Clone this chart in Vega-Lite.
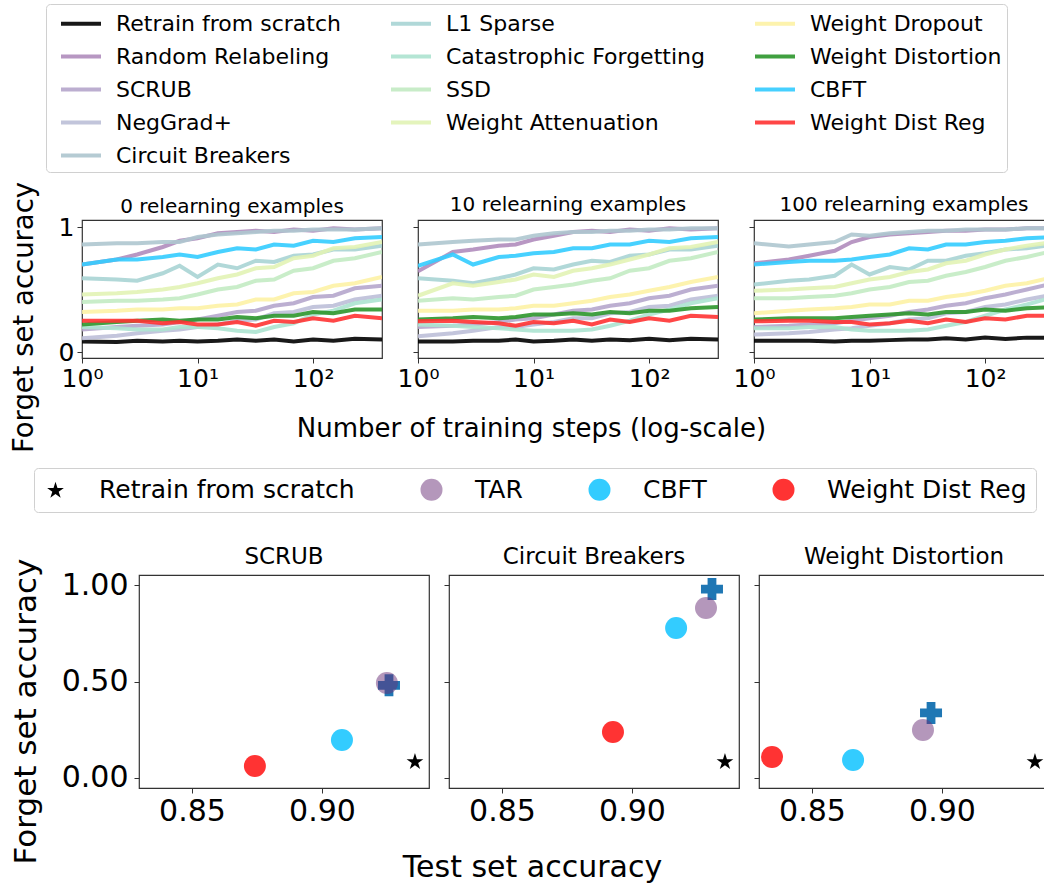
{
"$schema":"https://vega.github.io/schema/vega-lite/v6.json",
"padding":{"left":9,"top":3,"right":0,"bottom":0},
"config":{"font":"DejaVu Sans","view":{"stroke":"#333","strokeWidth":1.2},
"axis":{"grid":false,"domain":false,"tickColor":"#333","tickSize":5,"labelColor":"#000","titleColor":"#000","titleFontWeight":"normal","labelPadding":3},
"title":{"fontWeight":"normal","color":"#000","frame":"group"}},
"datasets":{
"methods":[{"m":"a","name":"Retrain from scratch"},{"m":"b","name":"Random Relabeling"},{"m":"c","name":"SCRUB"},{"m":"d","name":"NegGrad+"},{"m":"e","name":"Circuit Breakers"},{"m":"f","name":"L1 Sparse"},{"m":"g","name":"Catastrophic Forgetting"},{"m":"h","name":"SSD"},{"m":"i","name":"Weight Attenuation"},{"m":"j","name":"Weight Dropout"},{"m":"k","name":"Weight Distortion"},{"m":"l","name":"CBFT"},{"m":"m","name":"Weight Dist Reg"}],
"pts":[
{"panel":"SCRUB","k":"Original","x":0.9258,"y":0.48},{"panel":"SCRUB","k":"TAR","x":0.925,"y":0.492},{"panel":"SCRUB","k":"CBFT","x":0.9077,"y":0.197},{"panel":"SCRUB","k":"Weight Dist Reg","x":0.8742,"y":0.062},{"panel":"SCRUB","k":"Retrain from scratch","x":0.9358,"y":0.088},
{"panel":"CB","k":"Original","x":0.9308,"y":0.979},{"panel":"CB","k":"TAR","x":0.9285,"y":0.881},{"panel":"CB","k":"CBFT","x":0.917,"y":0.777},{"panel":"CB","k":"Weight Dist Reg","x":0.8927,"y":0.238},{"panel":"CB","k":"Retrain from scratch","x":0.9358,"y":0.088},
{"panel":"WD","k":"Original","x":0.8958,"y":0.337},{"panel":"WD","k":"TAR","x":0.8927,"y":0.249},{"panel":"WD","k":"CBFT","x":0.8658,"y":0.093},{"panel":"WD","k":"Weight Dist Reg","x":0.8346,"y":0.109},{"panel":"WD","k":"Retrain from scratch","x":0.9358,"y":0.088}],
"lines":[
{"p":0,"m":"a","s":1,"v":0.085},{"p":0,"m":"a","s":2,"v":0.08},{"p":0,"m":"a","s":3,"v":0.09},{"p":0,"m":"a","s":5,"v":0.085},{"p":0,"m":"a","s":7,"v":0.09},{"p":0,"m":"a","s":10,"v":0.085},{"p":0,"m":"a","s":15,"v":0.09},{"p":0,"m":"a","s":22,"v":0.1},{"p":0,"m":"a","s":32,"v":0.09},{"p":0,"m":"a","s":46,"v":0.1},{"p":0,"m":"a","s":68,"v":0.085},{"p":0,"m":"a","s":100,"v":0.1},{"p":0,"m":"a","s":150,"v":0.09},{"p":0,"m":"a","s":230,"v":0.105},{"p":0,"m":"a","s":395,"v":0.1},
{"p":0,"m":"b","s":1,"v":0.7},{"p":0,"m":"b","s":2,"v":0.74},{"p":0,"m":"b","s":3,"v":0.78},{"p":0,"m":"b","s":5,"v":0.84},{"p":0,"m":"b","s":7,"v":0.89},{"p":0,"m":"b","s":10,"v":0.91},{"p":0,"m":"b","s":15,"v":0.95},{"p":0,"m":"b","s":22,"v":0.96},{"p":0,"m":"b","s":32,"v":0.97},{"p":0,"m":"b","s":46,"v":0.96},{"p":0,"m":"b","s":68,"v":0.98},{"p":0,"m":"b","s":100,"v":0.97},{"p":0,"m":"b","s":150,"v":0.99},{"p":0,"m":"b","s":230,"v":0.98},{"p":0,"m":"b","s":395,"v":0.99},
{"p":0,"m":"c","s":1,"v":0.18},{"p":0,"m":"c","s":2,"v":0.2},{"p":0,"m":"c","s":3,"v":0.21},{"p":0,"m":"c","s":5,"v":0.22},{"p":0,"m":"c","s":7,"v":0.24},{"p":0,"m":"c","s":10,"v":0.26},{"p":0,"m":"c","s":15,"v":0.29},{"p":0,"m":"c","s":22,"v":0.32},{"p":0,"m":"c","s":32,"v":0.33},{"p":0,"m":"c","s":46,"v":0.37},{"p":0,"m":"c","s":68,"v":0.39},{"p":0,"m":"c","s":100,"v":0.44},{"p":0,"m":"c","s":150,"v":0.45},{"p":0,"m":"c","s":230,"v":0.51},{"p":0,"m":"c","s":395,"v":0.53},
{"p":0,"m":"d","s":1,"v":0.11},{"p":0,"m":"d","s":2,"v":0.13},{"p":0,"m":"d","s":3,"v":0.15},{"p":0,"m":"d","s":5,"v":0.17},{"p":0,"m":"d","s":7,"v":0.18},{"p":0,"m":"d","s":10,"v":0.2},{"p":0,"m":"d","s":15,"v":0.22},{"p":0,"m":"d","s":22,"v":0.25},{"p":0,"m":"d","s":32,"v":0.26},{"p":0,"m":"d","s":46,"v":0.31},{"p":0,"m":"d","s":68,"v":0.32},{"p":0,"m":"d","s":100,"v":0.36},{"p":0,"m":"d","s":150,"v":0.37},{"p":0,"m":"d","s":230,"v":0.42},{"p":0,"m":"d","s":395,"v":0.45},
{"p":0,"m":"e","s":1,"v":0.86},{"p":0,"m":"e","s":2,"v":0.87},{"p":0,"m":"e","s":3,"v":0.87},{"p":0,"m":"e","s":5,"v":0.88},{"p":0,"m":"e","s":7,"v":0.88},{"p":0,"m":"e","s":10,"v":0.92},{"p":0,"m":"e","s":15,"v":0.94},{"p":0,"m":"e","s":22,"v":0.95},{"p":0,"m":"e","s":32,"v":0.96},{"p":0,"m":"e","s":46,"v":0.97},{"p":0,"m":"e","s":68,"v":0.97},{"p":0,"m":"e","s":100,"v":0.98},{"p":0,"m":"e","s":150,"v":0.98},{"p":0,"m":"e","s":230,"v":0.98},{"p":0,"m":"e","s":395,"v":0.99},
{"p":0,"m":"f","s":1,"v":0.59},{"p":0,"m":"f","s":2,"v":0.58},{"p":0,"m":"f","s":3,"v":0.57},{"p":0,"m":"f","s":5,"v":0.63},{"p":0,"m":"f","s":7,"v":0.69},{"p":0,"m":"f","s":10,"v":0.6},{"p":0,"m":"f","s":15,"v":0.7},{"p":0,"m":"f","s":22,"v":0.67},{"p":0,"m":"f","s":32,"v":0.73},{"p":0,"m":"f","s":46,"v":0.72},{"p":0,"m":"f","s":68,"v":0.77},{"p":0,"m":"f","s":100,"v":0.78},{"p":0,"m":"f","s":150,"v":0.82},{"p":0,"m":"f","s":230,"v":0.82},{"p":0,"m":"f","s":395,"v":0.85},
{"p":0,"m":"g","s":1,"v":0.2},{"p":0,"m":"g","s":2,"v":0.19},{"p":0,"m":"g","s":3,"v":0.18},{"p":0,"m":"g","s":5,"v":0.18},{"p":0,"m":"g","s":7,"v":0.2},{"p":0,"m":"g","s":10,"v":0.2},{"p":0,"m":"g","s":15,"v":0.19},{"p":0,"m":"g","s":22,"v":0.17},{"p":0,"m":"g","s":32,"v":0.16},{"p":0,"m":"g","s":46,"v":0.2},{"p":0,"m":"g","s":68,"v":0.23},{"p":0,"m":"g","s":100,"v":0.3},{"p":0,"m":"g","s":150,"v":0.33},{"p":0,"m":"g","s":230,"v":0.39},{"p":0,"m":"g","s":395,"v":0.42},
{"p":0,"m":"h","s":1,"v":0.4},{"p":0,"m":"h","s":2,"v":0.41},{"p":0,"m":"h","s":3,"v":0.41},{"p":0,"m":"h","s":5,"v":0.42},{"p":0,"m":"h","s":7,"v":0.43},{"p":0,"m":"h","s":10,"v":0.46},{"p":0,"m":"h","s":15,"v":0.5},{"p":0,"m":"h","s":22,"v":0.52},{"p":0,"m":"h","s":32,"v":0.57},{"p":0,"m":"h","s":46,"v":0.58},{"p":0,"m":"h","s":68,"v":0.65},{"p":0,"m":"h","s":100,"v":0.67},{"p":0,"m":"h","s":150,"v":0.73},{"p":0,"m":"h","s":230,"v":0.75},{"p":0,"m":"h","s":395,"v":0.8},
{"p":0,"m":"i","s":1,"v":0.46},{"p":0,"m":"i","s":2,"v":0.47},{"p":0,"m":"i","s":3,"v":0.48},{"p":0,"m":"i","s":5,"v":0.5},{"p":0,"m":"i","s":7,"v":0.52},{"p":0,"m":"i","s":10,"v":0.55},{"p":0,"m":"i","s":15,"v":0.59},{"p":0,"m":"i","s":22,"v":0.62},{"p":0,"m":"i","s":32,"v":0.67},{"p":0,"m":"i","s":46,"v":0.68},{"p":0,"m":"i","s":68,"v":0.75},{"p":0,"m":"i","s":100,"v":0.77},{"p":0,"m":"i","s":150,"v":0.83},{"p":0,"m":"i","s":230,"v":0.84},{"p":0,"m":"i","s":395,"v":0.88},
{"p":0,"m":"j","s":1,"v":0.32},{"p":0,"m":"j","s":2,"v":0.33},{"p":0,"m":"j","s":3,"v":0.34},{"p":0,"m":"j","s":5,"v":0.34},{"p":0,"m":"j","s":7,"v":0.35},{"p":0,"m":"j","s":10,"v":0.35},{"p":0,"m":"j","s":15,"v":0.37},{"p":0,"m":"j","s":22,"v":0.38},{"p":0,"m":"j","s":32,"v":0.42},{"p":0,"m":"j","s":46,"v":0.42},{"p":0,"m":"j","s":68,"v":0.47},{"p":0,"m":"j","s":100,"v":0.48},{"p":0,"m":"j","s":150,"v":0.53},{"p":0,"m":"j","s":230,"v":0.55},{"p":0,"m":"j","s":395,"v":0.6},
{"p":0,"m":"k","s":1,"v":0.22},{"p":0,"m":"k","s":2,"v":0.24},{"p":0,"m":"k","s":3,"v":0.25},{"p":0,"m":"k","s":5,"v":0.26},{"p":0,"m":"k","s":7,"v":0.25},{"p":0,"m":"k","s":10,"v":0.26},{"p":0,"m":"k","s":15,"v":0.26},{"p":0,"m":"k","s":22,"v":0.28},{"p":0,"m":"k","s":32,"v":0.27},{"p":0,"m":"k","s":46,"v":0.29},{"p":0,"m":"k","s":68,"v":0.29},{"p":0,"m":"k","s":100,"v":0.32},{"p":0,"m":"k","s":150,"v":0.31},{"p":0,"m":"k","s":230,"v":0.34},{"p":0,"m":"k","s":395,"v":0.34},
{"p":0,"m":"l","s":1,"v":0.7},{"p":0,"m":"l","s":2,"v":0.74},{"p":0,"m":"l","s":3,"v":0.74},{"p":0,"m":"l","s":5,"v":0.76},{"p":0,"m":"l","s":7,"v":0.78},{"p":0,"m":"l","s":10,"v":0.76},{"p":0,"m":"l","s":15,"v":0.8},{"p":0,"m":"l","s":22,"v":0.83},{"p":0,"m":"l","s":32,"v":0.82},{"p":0,"m":"l","s":46,"v":0.86},{"p":0,"m":"l","s":68,"v":0.85},{"p":0,"m":"l","s":100,"v":0.89},{"p":0,"m":"l","s":150,"v":0.88},{"p":0,"m":"l","s":230,"v":0.91},{"p":0,"m":"l","s":395,"v":0.92},
{"p":0,"m":"m","s":1,"v":0.25},{"p":0,"m":"m","s":2,"v":0.25},{"p":0,"m":"m","s":3,"v":0.25},{"p":0,"m":"m","s":5,"v":0.23},{"p":0,"m":"m","s":7,"v":0.24},{"p":0,"m":"m","s":10,"v":0.22},{"p":0,"m":"m","s":15,"v":0.22},{"p":0,"m":"m","s":22,"v":0.24},{"p":0,"m":"m","s":32,"v":0.21},{"p":0,"m":"m","s":46,"v":0.25},{"p":0,"m":"m","s":68,"v":0.24},{"p":0,"m":"m","s":100,"v":0.27},{"p":0,"m":"m","s":150,"v":0.25},{"p":0,"m":"m","s":230,"v":0.29},{"p":0,"m":"m","s":395,"v":0.27},
{"p":1,"m":"a","s":1,"v":0.085},{"p":1,"m":"a","s":2,"v":0.085},{"p":1,"m":"a","s":3,"v":0.09},{"p":1,"m":"a","s":5,"v":0.09},{"p":1,"m":"a","s":7,"v":0.1},{"p":1,"m":"a","s":10,"v":0.085},{"p":1,"m":"a","s":15,"v":0.09},{"p":1,"m":"a","s":22,"v":0.1},{"p":1,"m":"a","s":32,"v":0.09},{"p":1,"m":"a","s":46,"v":0.1},{"p":1,"m":"a","s":68,"v":0.095},{"p":1,"m":"a","s":100,"v":0.105},{"p":1,"m":"a","s":150,"v":0.095},{"p":1,"m":"a","s":230,"v":0.105},{"p":1,"m":"a","s":395,"v":0.1},
{"p":1,"m":"b","s":1,"v":0.645},{"p":1,"m":"b","s":2,"v":0.8},{"p":1,"m":"b","s":3,"v":0.82},{"p":1,"m":"b","s":5,"v":0.85},{"p":1,"m":"b","s":7,"v":0.86},{"p":1,"m":"b","s":10,"v":0.9},{"p":1,"m":"b","s":15,"v":0.93},{"p":1,"m":"b","s":22,"v":0.96},{"p":1,"m":"b","s":32,"v":0.97},{"p":1,"m":"b","s":46,"v":0.96},{"p":1,"m":"b","s":68,"v":0.98},{"p":1,"m":"b","s":100,"v":0.97},{"p":1,"m":"b","s":150,"v":0.99},{"p":1,"m":"b","s":230,"v":0.98},{"p":1,"m":"b","s":395,"v":0.99},
{"p":1,"m":"c","s":1,"v":0.2},{"p":1,"m":"c","s":2,"v":0.21},{"p":1,"m":"c","s":3,"v":0.22},{"p":1,"m":"c","s":5,"v":0.24},{"p":1,"m":"c","s":7,"v":0.26},{"p":1,"m":"c","s":10,"v":0.27},{"p":1,"m":"c","s":15,"v":0.3},{"p":1,"m":"c","s":22,"v":0.33},{"p":1,"m":"c","s":32,"v":0.34},{"p":1,"m":"c","s":46,"v":0.37},{"p":1,"m":"c","s":68,"v":0.39},{"p":1,"m":"c","s":100,"v":0.43},{"p":1,"m":"c","s":150,"v":0.45},{"p":1,"m":"c","s":230,"v":0.5},{"p":1,"m":"c","s":395,"v":0.53},
{"p":1,"m":"d","s":1,"v":0.125},{"p":1,"m":"d","s":2,"v":0.15},{"p":1,"m":"d","s":3,"v":0.17},{"p":1,"m":"d","s":5,"v":0.2},{"p":1,"m":"d","s":7,"v":0.2},{"p":1,"m":"d","s":10,"v":0.22},{"p":1,"m":"d","s":15,"v":0.24},{"p":1,"m":"d","s":22,"v":0.27},{"p":1,"m":"d","s":32,"v":0.27},{"p":1,"m":"d","s":46,"v":0.31},{"p":1,"m":"d","s":68,"v":0.32},{"p":1,"m":"d","s":100,"v":0.36},{"p":1,"m":"d","s":150,"v":0.37},{"p":1,"m":"d","s":230,"v":0.42},{"p":1,"m":"d","s":395,"v":0.45},
{"p":1,"m":"e","s":1,"v":0.86},{"p":1,"m":"e","s":2,"v":0.88},{"p":1,"m":"e","s":3,"v":0.89},{"p":1,"m":"e","s":5,"v":0.9},{"p":1,"m":"e","s":7,"v":0.9},{"p":1,"m":"e","s":10,"v":0.93},{"p":1,"m":"e","s":15,"v":0.95},{"p":1,"m":"e","s":22,"v":0.96},{"p":1,"m":"e","s":32,"v":0.96},{"p":1,"m":"e","s":46,"v":0.97},{"p":1,"m":"e","s":68,"v":0.97},{"p":1,"m":"e","s":100,"v":0.98},{"p":1,"m":"e","s":150,"v":0.98},{"p":1,"m":"e","s":230,"v":0.99},{"p":1,"m":"e","s":395,"v":0.99},
{"p":1,"m":"f","s":1,"v":0.59},{"p":1,"m":"f","s":2,"v":0.57},{"p":1,"m":"f","s":3,"v":0.55},{"p":1,"m":"f","s":5,"v":0.59},{"p":1,"m":"f","s":7,"v":0.62},{"p":1,"m":"f","s":10,"v":0.67},{"p":1,"m":"f","s":15,"v":0.66},{"p":1,"m":"f","s":22,"v":0.7},{"p":1,"m":"f","s":32,"v":0.73},{"p":1,"m":"f","s":46,"v":0.72},{"p":1,"m":"f","s":68,"v":0.77},{"p":1,"m":"f","s":100,"v":0.78},{"p":1,"m":"f","s":150,"v":0.82},{"p":1,"m":"f","s":230,"v":0.82},{"p":1,"m":"f","s":395,"v":0.85},
{"p":1,"m":"g","s":1,"v":0.22},{"p":1,"m":"g","s":2,"v":0.21},{"p":1,"m":"g","s":3,"v":0.2},{"p":1,"m":"g","s":5,"v":0.19},{"p":1,"m":"g","s":7,"v":0.18},{"p":1,"m":"g","s":10,"v":0.17},{"p":1,"m":"g","s":15,"v":0.17},{"p":1,"m":"g","s":22,"v":0.17},{"p":1,"m":"g","s":32,"v":0.18},{"p":1,"m":"g","s":46,"v":0.21},{"p":1,"m":"g","s":68,"v":0.25},{"p":1,"m":"g","s":100,"v":0.3},{"p":1,"m":"g","s":150,"v":0.34},{"p":1,"m":"g","s":230,"v":0.39},{"p":1,"m":"g","s":395,"v":0.43},
{"p":1,"m":"h","s":1,"v":0.41},{"p":1,"m":"h","s":2,"v":0.43},{"p":1,"m":"h","s":3,"v":0.42},{"p":1,"m":"h","s":5,"v":0.44},{"p":1,"m":"h","s":7,"v":0.45},{"p":1,"m":"h","s":10,"v":0.5},{"p":1,"m":"h","s":15,"v":0.52},{"p":1,"m":"h","s":22,"v":0.54},{"p":1,"m":"h","s":32,"v":0.57},{"p":1,"m":"h","s":46,"v":0.59},{"p":1,"m":"h","s":68,"v":0.65},{"p":1,"m":"h","s":100,"v":0.67},{"p":1,"m":"h","s":150,"v":0.73},{"p":1,"m":"h","s":230,"v":0.75},{"p":1,"m":"h","s":395,"v":0.8},
{"p":1,"m":"i","s":1,"v":0.45},{"p":1,"m":"i","s":2,"v":0.55},{"p":1,"m":"i","s":3,"v":0.53},{"p":1,"m":"i","s":5,"v":0.56},{"p":1,"m":"i","s":7,"v":0.58},{"p":1,"m":"i","s":10,"v":0.62},{"p":1,"m":"i","s":15,"v":0.6},{"p":1,"m":"i","s":22,"v":0.65},{"p":1,"m":"i","s":32,"v":0.67},{"p":1,"m":"i","s":46,"v":0.7},{"p":1,"m":"i","s":68,"v":0.74},{"p":1,"m":"i","s":100,"v":0.78},{"p":1,"m":"i","s":150,"v":0.83},{"p":1,"m":"i","s":230,"v":0.84},{"p":1,"m":"i","s":395,"v":0.88},
{"p":1,"m":"j","s":1,"v":0.33},{"p":1,"m":"j","s":2,"v":0.33},{"p":1,"m":"j","s":3,"v":0.34},{"p":1,"m":"j","s":5,"v":0.34},{"p":1,"m":"j","s":7,"v":0.35},{"p":1,"m":"j","s":10,"v":0.37},{"p":1,"m":"j","s":15,"v":0.37},{"p":1,"m":"j","s":22,"v":0.39},{"p":1,"m":"j","s":32,"v":0.41},{"p":1,"m":"j","s":46,"v":0.44},{"p":1,"m":"j","s":68,"v":0.46},{"p":1,"m":"j","s":100,"v":0.49},{"p":1,"m":"j","s":150,"v":0.52},{"p":1,"m":"j","s":230,"v":0.56},{"p":1,"m":"j","s":395,"v":0.6},
{"p":1,"m":"k","s":1,"v":0.26},{"p":1,"m":"k","s":2,"v":0.27},{"p":1,"m":"k","s":3,"v":0.28},{"p":1,"m":"k","s":5,"v":0.27},{"p":1,"m":"k","s":7,"v":0.28},{"p":1,"m":"k","s":10,"v":0.3},{"p":1,"m":"k","s":15,"v":0.3},{"p":1,"m":"k","s":22,"v":0.31},{"p":1,"m":"k","s":32,"v":0.3},{"p":1,"m":"k","s":46,"v":0.32},{"p":1,"m":"k","s":68,"v":0.31},{"p":1,"m":"k","s":100,"v":0.33},{"p":1,"m":"k","s":150,"v":0.33},{"p":1,"m":"k","s":230,"v":0.35},{"p":1,"m":"k","s":395,"v":0.36},
{"p":1,"m":"l","s":1,"v":0.69},{"p":1,"m":"l","s":2,"v":0.78},{"p":1,"m":"l","s":3,"v":0.7},{"p":1,"m":"l","s":5,"v":0.76},{"p":1,"m":"l","s":7,"v":0.77},{"p":1,"m":"l","s":10,"v":0.79},{"p":1,"m":"l","s":15,"v":0.8},{"p":1,"m":"l","s":22,"v":0.83},{"p":1,"m":"l","s":32,"v":0.83},{"p":1,"m":"l","s":46,"v":0.86},{"p":1,"m":"l","s":68,"v":0.86},{"p":1,"m":"l","s":100,"v":0.89},{"p":1,"m":"l","s":150,"v":0.88},{"p":1,"m":"l","s":230,"v":0.91},{"p":1,"m":"l","s":395,"v":0.92},
{"p":1,"m":"m","s":1,"v":0.245},{"p":1,"m":"m","s":2,"v":0.25},{"p":1,"m":"m","s":3,"v":0.24},{"p":1,"m":"m","s":5,"v":0.23},{"p":1,"m":"m","s":7,"v":0.21},{"p":1,"m":"m","s":10,"v":0.24},{"p":1,"m":"m","s":15,"v":0.23},{"p":1,"m":"m","s":22,"v":0.25},{"p":1,"m":"m","s":32,"v":0.22},{"p":1,"m":"m","s":46,"v":0.26},{"p":1,"m":"m","s":68,"v":0.24},{"p":1,"m":"m","s":100,"v":0.27},{"p":1,"m":"m","s":150,"v":0.25},{"p":1,"m":"m","s":230,"v":0.29},{"p":1,"m":"m","s":395,"v":0.28},
{"p":2,"m":"a","s":1,"v":0.09},{"p":2,"m":"a","s":2,"v":0.09},{"p":2,"m":"a","s":3,"v":0.09},{"p":2,"m":"a","s":5,"v":0.085},{"p":2,"m":"a","s":7,"v":0.09},{"p":2,"m":"a","s":10,"v":0.09},{"p":2,"m":"a","s":15,"v":0.095},{"p":2,"m":"a","s":22,"v":0.1},{"p":2,"m":"a","s":32,"v":0.1},{"p":2,"m":"a","s":46,"v":0.11},{"p":2,"m":"a","s":68,"v":0.1},{"p":2,"m":"a","s":100,"v":0.115},{"p":2,"m":"a","s":150,"v":0.105},{"p":2,"m":"a","s":230,"v":0.115},{"p":2,"m":"a","s":395,"v":0.115},
{"p":2,"m":"b","s":1,"v":0.71},{"p":2,"m":"b","s":2,"v":0.74},{"p":2,"m":"b","s":3,"v":0.77},{"p":2,"m":"b","s":5,"v":0.81},{"p":2,"m":"b","s":7,"v":0.88},{"p":2,"m":"b","s":10,"v":0.92},{"p":2,"m":"b","s":15,"v":0.94},{"p":2,"m":"b","s":22,"v":0.95},{"p":2,"m":"b","s":32,"v":0.96},{"p":2,"m":"b","s":46,"v":0.97},{"p":2,"m":"b","s":68,"v":0.97},{"p":2,"m":"b","s":100,"v":0.98},{"p":2,"m":"b","s":150,"v":0.98},{"p":2,"m":"b","s":230,"v":0.99},{"p":2,"m":"b","s":395,"v":0.99},
{"p":2,"m":"c","s":1,"v":0.2},{"p":2,"m":"c","s":2,"v":0.21},{"p":2,"m":"c","s":3,"v":0.22},{"p":2,"m":"c","s":5,"v":0.23},{"p":2,"m":"c","s":7,"v":0.25},{"p":2,"m":"c","s":10,"v":0.27},{"p":2,"m":"c","s":15,"v":0.29},{"p":2,"m":"c","s":22,"v":0.32},{"p":2,"m":"c","s":32,"v":0.34},{"p":2,"m":"c","s":46,"v":0.37},{"p":2,"m":"c","s":68,"v":0.39},{"p":2,"m":"c","s":100,"v":0.43},{"p":2,"m":"c","s":150,"v":0.46},{"p":2,"m":"c","s":230,"v":0.5},{"p":2,"m":"c","s":395,"v":0.55},
{"p":2,"m":"d","s":1,"v":0.14},{"p":2,"m":"d","s":2,"v":0.15},{"p":2,"m":"d","s":3,"v":0.16},{"p":2,"m":"d","s":5,"v":0.18},{"p":2,"m":"d","s":7,"v":0.19},{"p":2,"m":"d","s":10,"v":0.21},{"p":2,"m":"d","s":15,"v":0.23},{"p":2,"m":"d","s":22,"v":0.26},{"p":2,"m":"d","s":32,"v":0.27},{"p":2,"m":"d","s":46,"v":0.31},{"p":2,"m":"d","s":68,"v":0.32},{"p":2,"m":"d","s":100,"v":0.36},{"p":2,"m":"d","s":150,"v":0.38},{"p":2,"m":"d","s":230,"v":0.42},{"p":2,"m":"d","s":395,"v":0.46},
{"p":2,"m":"e","s":1,"v":0.87},{"p":2,"m":"e","s":2,"v":0.845},{"p":2,"m":"e","s":3,"v":0.86},{"p":2,"m":"e","s":5,"v":0.88},{"p":2,"m":"e","s":7,"v":0.94},{"p":2,"m":"e","s":10,"v":0.93},{"p":2,"m":"e","s":15,"v":0.95},{"p":2,"m":"e","s":22,"v":0.96},{"p":2,"m":"e","s":32,"v":0.97},{"p":2,"m":"e","s":46,"v":0.97},{"p":2,"m":"e","s":68,"v":0.98},{"p":2,"m":"e","s":100,"v":0.98},{"p":2,"m":"e","s":150,"v":0.98},{"p":2,"m":"e","s":230,"v":0.99},{"p":2,"m":"e","s":395,"v":0.99},
{"p":2,"m":"f","s":1,"v":0.54},{"p":2,"m":"f","s":2,"v":0.57},{"p":2,"m":"f","s":3,"v":0.58},{"p":2,"m":"f","s":5,"v":0.61},{"p":2,"m":"f","s":7,"v":0.7},{"p":2,"m":"f","s":10,"v":0.62},{"p":2,"m":"f","s":15,"v":0.68},{"p":2,"m":"f","s":22,"v":0.66},{"p":2,"m":"f","s":32,"v":0.73},{"p":2,"m":"f","s":46,"v":0.73},{"p":2,"m":"f","s":68,"v":0.77},{"p":2,"m":"f","s":100,"v":0.79},{"p":2,"m":"f","s":150,"v":0.82},{"p":2,"m":"f","s":230,"v":0.83},{"p":2,"m":"f","s":395,"v":0.86},
{"p":2,"m":"g","s":1,"v":0.19},{"p":2,"m":"g","s":2,"v":0.19},{"p":2,"m":"g","s":3,"v":0.2},{"p":2,"m":"g","s":5,"v":0.2},{"p":2,"m":"g","s":7,"v":0.18},{"p":2,"m":"g","s":10,"v":0.17},{"p":2,"m":"g","s":15,"v":0.17},{"p":2,"m":"g","s":22,"v":0.17},{"p":2,"m":"g","s":32,"v":0.18},{"p":2,"m":"g","s":46,"v":0.21},{"p":2,"m":"g","s":68,"v":0.24},{"p":2,"m":"g","s":100,"v":0.29},{"p":2,"m":"g","s":150,"v":0.34},{"p":2,"m":"g","s":230,"v":0.38},{"p":2,"m":"g","s":395,"v":0.44},
{"p":2,"m":"h","s":1,"v":0.43},{"p":2,"m":"h","s":2,"v":0.43},{"p":2,"m":"h","s":3,"v":0.44},{"p":2,"m":"h","s":5,"v":0.45},{"p":2,"m":"h","s":7,"v":0.47},{"p":2,"m":"h","s":10,"v":0.5},{"p":2,"m":"h","s":15,"v":0.52},{"p":2,"m":"h","s":22,"v":0.56},{"p":2,"m":"h","s":32,"v":0.57},{"p":2,"m":"h","s":46,"v":0.61},{"p":2,"m":"h","s":68,"v":0.64},{"p":2,"m":"h","s":100,"v":0.68},{"p":2,"m":"h","s":150,"v":0.73},{"p":2,"m":"h","s":230,"v":0.76},{"p":2,"m":"h","s":395,"v":0.81},
{"p":2,"m":"i","s":1,"v":0.49},{"p":2,"m":"i","s":2,"v":0.5},{"p":2,"m":"i","s":3,"v":0.51},{"p":2,"m":"i","s":5,"v":0.52},{"p":2,"m":"i","s":7,"v":0.55},{"p":2,"m":"i","s":10,"v":0.58},{"p":2,"m":"i","s":15,"v":0.6},{"p":2,"m":"i","s":22,"v":0.64},{"p":2,"m":"i","s":32,"v":0.66},{"p":2,"m":"i","s":46,"v":0.71},{"p":2,"m":"i","s":68,"v":0.73},{"p":2,"m":"i","s":100,"v":0.78},{"p":2,"m":"i","s":150,"v":0.82},{"p":2,"m":"i","s":230,"v":0.85},{"p":2,"m":"i","s":395,"v":0.88},
{"p":2,"m":"j","s":1,"v":0.31},{"p":2,"m":"j","s":2,"v":0.33},{"p":2,"m":"j","s":3,"v":0.34},{"p":2,"m":"j","s":5,"v":0.35},{"p":2,"m":"j","s":7,"v":0.36},{"p":2,"m":"j","s":10,"v":0.38},{"p":2,"m":"j","s":15,"v":0.38},{"p":2,"m":"j","s":22,"v":0.41},{"p":2,"m":"j","s":32,"v":0.41},{"p":2,"m":"j","s":46,"v":0.44},{"p":2,"m":"j","s":68,"v":0.46},{"p":2,"m":"j","s":100,"v":0.49},{"p":2,"m":"j","s":150,"v":0.53},{"p":2,"m":"j","s":230,"v":0.55},{"p":2,"m":"j","s":395,"v":0.6},
{"p":2,"m":"k","s":1,"v":0.26},{"p":2,"m":"k","s":2,"v":0.27},{"p":2,"m":"k","s":3,"v":0.27},{"p":2,"m":"k","s":5,"v":0.27},{"p":2,"m":"k","s":7,"v":0.28},{"p":2,"m":"k","s":10,"v":0.29},{"p":2,"m":"k","s":15,"v":0.3},{"p":2,"m":"k","s":22,"v":0.31},{"p":2,"m":"k","s":32,"v":0.3},{"p":2,"m":"k","s":46,"v":0.32},{"p":2,"m":"k","s":68,"v":0.32},{"p":2,"m":"k","s":100,"v":0.34},{"p":2,"m":"k","s":150,"v":0.33},{"p":2,"m":"k","s":230,"v":0.35},{"p":2,"m":"k","s":395,"v":0.36},
{"p":2,"m":"l","s":1,"v":0.7},{"p":2,"m":"l","s":2,"v":0.72},{"p":2,"m":"l","s":3,"v":0.73},{"p":2,"m":"l","s":5,"v":0.73},{"p":2,"m":"l","s":7,"v":0.74},{"p":2,"m":"l","s":10,"v":0.76},{"p":2,"m":"l","s":15,"v":0.78},{"p":2,"m":"l","s":22,"v":0.83},{"p":2,"m":"l","s":32,"v":0.82},{"p":2,"m":"l","s":46,"v":0.86},{"p":2,"m":"l","s":68,"v":0.86},{"p":2,"m":"l","s":100,"v":0.88},{"p":2,"m":"l","s":150,"v":0.89},{"p":2,"m":"l","s":230,"v":0.91},{"p":2,"m":"l","s":395,"v":0.92},
{"p":2,"m":"m","s":1,"v":0.245},{"p":2,"m":"m","s":2,"v":0.25},{"p":2,"m":"m","s":3,"v":0.25},{"p":2,"m":"m","s":5,"v":0.24},{"p":2,"m":"m","s":7,"v":0.24},{"p":2,"m":"m","s":10,"v":0.22},{"p":2,"m":"m","s":15,"v":0.23},{"p":2,"m":"m","s":22,"v":0.25},{"p":2,"m":"m","s":32,"v":0.23},{"p":2,"m":"m","s":46,"v":0.26},{"p":2,"m":"m","s":68,"v":0.24},{"p":2,"m":"m","s":100,"v":0.27},{"p":2,"m":"m","s":150,"v":0.26},{"p":2,"m":"m","s":230,"v":0.29},{"p":2,"m":"m","s":395,"v":0.29}
]},
"resolve":{"scale":{"color":"independent","shape":"independent","opacity":"independent"},"legend":{"color":"independent","shape":"independent","opacity":"independent"}},
"bounds":"flush",
"spacing":355,
"vconcat":[
{"hconcat":[
{"width":300,"height":138,"title":{"text":"0 relearning examples","fontSize":20,"offset":-36},
"data":{"name":"lines"},
"transform":[{"filter":"datum.p == 0"},{"lookup":"m","from":{"data":{"name":"methods"},"key":"m","fields":["name"]}}],
"mark":{"type":"line","strokeWidth":4,"opacity":0.9,"clip":true},
"encoding":{
"x":{"field":"s","type":"quantitative","scale":{"type":"log","domain":[1,395],"nice":false},"axis":{"values":[1,10,100],"labelExpr":"datum.value == 1 ? '10⁰' : datum.value == 10 ? '10¹' : '10²'","labelFontSize":25,"title":null,"labelFlush":false}},
"y":{"field":"v","type":"quantitative","scale":{"domain":[-0.048,1.056],"nice":false,"zero":false},"axis":{"values":[0,1],"format":"d","labelFontSize":25,"title":"Forget set accuracy","titleFontSize":27.5,"titleX":-50,"titleY":97,"titleBaseline":"alphabetic","titleAngle":270}},
"color":{"field":"name","type":"nominal","scale":{"domain":["Retrain from scratch","Random Relabeling","SCRUB","NegGrad+","Weight Dist Reg","L1 Sparse","Catastrophic Forgetting","SSD","Weight Attenuation","Circuit Breakers","Weight Dropout","Weight Distortion","CBFT"],"range":["#000000","#b08cbc","#b5a6cc","#bcbfd8","#ff3333","#a8d4d4","#ace3d0","#c3ebc3","#e2f3b5","#aec6cf","#fdf2a5","#2c962c","#33ccff"]},
"legend":{"orient":"none","legendX":-36,"legendY":-216,"columns":3,"title":null,"symbolType":"M-0.36,0H2.84","symbolSize":625,"symbolStrokeWidth":4,"labelFontSize":22,"labelOffset":36,"labelLimit":400,"rowPadding":7,"columnPadding":40,"padding":5,"strokeColor":"#d0d0d0","fillColor":"white","cornerRadius":4}}}},
{"width":300,"height":138,"title":{"text":"10 relearning examples","fontSize":20,"offset":5},
"data":{"name":"lines"},
"transform":[{"filter":"datum.p == 1"},{"lookup":"m","from":{"data":{"name":"methods"},"key":"m","fields":["name"]}}],
"mark":{"type":"line","strokeWidth":4,"opacity":0.9,"clip":true},
"encoding":{
"x":{"field":"s","type":"quantitative","scale":{"type":"log","domain":[1,395],"nice":false},"axis":{"values":[1,10,100],"labelExpr":"datum.value == 1 ? '10⁰' : datum.value == 10 ? '10¹' : '10²'","labelFontSize":25,"labelFlush":false,"title":"Number of training steps (log-scale)","titleFontSize":26,"titleX":113,"titleY":78,"titleBaseline":"alphabetic"}},
"y":{"field":"v","type":"quantitative","scale":{"domain":[-0.048,1.056],"nice":false,"zero":false},"axis":{"values":[0,1],"labels":false,"title":null}},
"color":{"field":"name","type":"nominal","scale":{"domain":["Retrain from scratch","Random Relabeling","SCRUB","NegGrad+","Weight Dist Reg","L1 Sparse","Catastrophic Forgetting","SSD","Weight Attenuation","Circuit Breakers","Weight Dropout","Weight Distortion","CBFT"],"range":["#000000","#b08cbc","#b5a6cc","#bcbfd8","#ff3333","#a8d4d4","#ace3d0","#c3ebc3","#e2f3b5","#aec6cf","#fdf2a5","#2c962c","#33ccff"]}}}},
{"width":300,"height":138,"title":{"text":"100 relearning examples","fontSize":20,"offset":5},
"data":{"name":"lines"},
"transform":[{"filter":"datum.p == 2"},{"lookup":"m","from":{"data":{"name":"methods"},"key":"m","fields":["name"]}}],
"mark":{"type":"line","strokeWidth":4,"opacity":0.9,"clip":true},
"encoding":{
"x":{"field":"s","type":"quantitative","scale":{"type":"log","domain":[1,395],"nice":false},"axis":{"values":[1,10,100],"labelExpr":"datum.value == 1 ? '10⁰' : datum.value == 10 ? '10¹' : '10²'","labelFontSize":25,"title":null,"labelFlush":false}},
"y":{"field":"v","type":"quantitative","scale":{"domain":[-0.048,1.056],"nice":false,"zero":false},"axis":{"values":[0,1],"labels":false,"title":null}},
"color":{"field":"name","type":"nominal","scale":{"domain":["Retrain from scratch","Random Relabeling","SCRUB","NegGrad+","Weight Dist Reg","L1 Sparse","Catastrophic Forgetting","SSD","Weight Attenuation","Circuit Breakers","Weight Dropout","Weight Distortion","CBFT"],"range":["#000000","#b08cbc","#b5a6cc","#bcbfd8","#ff3333","#a8d4d4","#ace3d0","#c3ebc3","#e2f3b5","#aec6cf","#fdf2a5","#2c962c","#33ccff"]}}}}
],"spacing":36,"bounds":"flush"},
{"hconcat":[
{"width":37,"height":213,"view":{"stroke":null},"data":{"values":[{"a":0}]},"mark":{"type":"point","opacity":0},"encoding":{}},
{"width":290,"height":213,"title":{"text":"SCRUB","fontSize":23,"offset":-11},
"data":{"name":"pts"},"transform":[{"filter":"datum.panel == 'SCRUB'"}],
"encoding":{
"x":{"field":"x","type":"quantitative","scale":{"domain":[0.8296,0.9412],"nice":false,"zero":false},"axis":{"values":[0.85,0.9],"format":".2f","labelFontSize":30,"title":null}},
"y":{"field":"y","type":"quantitative","scale":{"domain":[-0.052,1.052],"nice":false,"zero":false},"axis":{"values":[0,0.5,1],"format":".2f","labelFontSize":30,"labelPadding":6,"title":"Forget set accuracy","titleFontSize":31,"titleX":-104,"titleY":136,"titleBaseline":"alphabetic","titleAngle":270}}},
"layer":[
{"transform":[{"filter":"datum.k == 'Original'"}],"mark":{"type":"point","shape":"cross","filled":true,"size":484,"color":"#1f77b4","opacity":1,"strokeWidth":0}},
{"transform":[{"filter":"datum.k != 'Original'"}],"mark":{"type":"point","filled":true,"size":484,"strokeWidth":0},
"encoding":{
"color":{"field":"k","type":"nominal","scale":{"domain":["Retrain from scratch","TAR","CBFT","Weight Dist Reg"],"range":["#000000","#6a3078","#33ccff","#ff3333"]},"legend":{"orient":"none","legendX":-48,"legendY":-107,"direction":"horizontal","title":null,"labelFontSize":25,"symbolSize":484,"labelOffset":31,"columnPadding":64,"padding":9,"labelLimit":400,"strokeColor":"#d0d0d0","fillColor":"white","cornerRadius":4}},
"shape":{"field":"k","type":"nominal","scale":{"domain":["Retrain from scratch","TAR","CBFT","Weight Dist Reg"],"range":["M0,-0.72L0.18,-0.167L0.761,-0.167L0.29,0.174L0.47,0.727L0,0.386L-0.47,0.727L-0.29,0.174L-0.761,-0.167L-0.18,-0.167Z","circle","circle","circle"]}},
"opacity":{"field":"k","type":"nominal","scale":{"type":"ordinal","domain":["Retrain from scratch","TAR","CBFT","Weight Dist Reg"],"range":[1,0.5,1,1]}}}}]},
{"width":290,"height":213,"title":{"text":"Circuit Breakers","fontSize":23,"offset":6},
"data":{"name":"pts"},"transform":[{"filter":"datum.panel == 'CB'"}],
"encoding":{
"x":{"field":"x","type":"quantitative","scale":{"domain":[0.8296,0.9412],"nice":false,"zero":false},"axis":{"values":[0.85,0.9],"format":".2f","labelFontSize":30,"title":"Test set accuracy","titleFontSize":30,"titleX":83,"titleY":88,"titleBaseline":"alphabetic"}},
"y":{"field":"y","type":"quantitative","scale":{"domain":[-0.052,1.052],"nice":false,"zero":false},"axis":{"values":[0,0.5,1],"labels":false,"title":null}}},
"layer":[
{"transform":[{"filter":"datum.k == 'Original'"}],"mark":{"type":"point","shape":"cross","filled":true,"size":484,"color":"#1f77b4","opacity":1,"strokeWidth":0}},
{"transform":[{"filter":"datum.k != 'Original'"}],"mark":{"type":"point","filled":true,"size":484,"strokeWidth":0},
"encoding":{
"color":{"field":"k","type":"nominal","scale":{"domain":["Retrain from scratch","TAR","CBFT","Weight Dist Reg"],"range":["#000000","#6a3078","#33ccff","#ff3333"]}},
"shape":{"field":"k","type":"nominal","scale":{"domain":["Retrain from scratch","TAR","CBFT","Weight Dist Reg"],"range":["M0,-0.72L0.18,-0.167L0.761,-0.167L0.29,0.174L0.47,0.727L0,0.386L-0.47,0.727L-0.29,0.174L-0.761,-0.167L-0.18,-0.167Z","circle","circle","circle"]}},
"opacity":{"field":"k","type":"nominal","scale":{"type":"ordinal","domain":["Retrain from scratch","TAR","CBFT","Weight Dist Reg"],"range":[1,0.5,1,1]}}}}]},
{"width":290,"height":213,"title":{"text":"Weight Distortion","fontSize":23,"offset":6},
"data":{"name":"pts"},"transform":[{"filter":"datum.panel == 'WD'"}],
"encoding":{
"x":{"field":"x","type":"quantitative","scale":{"domain":[0.8296,0.9412],"nice":false,"zero":false},"axis":{"values":[0.85,0.9],"format":".2f","labelFontSize":30,"title":null}},
"y":{"field":"y","type":"quantitative","scale":{"domain":[-0.052,1.052],"nice":false,"zero":false},"axis":{"values":[0,0.5,1],"labels":false,"title":null}}},
"layer":[
{"transform":[{"filter":"datum.k == 'Original'"}],"mark":{"type":"point","shape":"cross","filled":true,"size":484,"color":"#1f77b4","opacity":1,"strokeWidth":0}},
{"transform":[{"filter":"datum.k != 'Original'"}],"mark":{"type":"point","filled":true,"size":484,"strokeWidth":0},
"encoding":{
"color":{"field":"k","type":"nominal","scale":{"domain":["Retrain from scratch","TAR","CBFT","Weight Dist Reg"],"range":["#000000","#6a3078","#33ccff","#ff3333"]}},
"shape":{"field":"k","type":"nominal","scale":{"domain":["Retrain from scratch","TAR","CBFT","Weight Dist Reg"],"range":["M0,-0.72L0.18,-0.167L0.761,-0.167L0.29,0.174L0.47,0.727L0,0.386L-0.47,0.727L-0.29,0.174L-0.761,-0.167L-0.18,-0.167Z","circle","circle","circle"]}},
"opacity":{"field":"k","type":"nominal","scale":{"type":"ordinal","domain":["Retrain from scratch","TAR","CBFT","Weight Dist Reg"],"range":[1,0.5,1,1]}}}}]}
],"spacing":20,"bounds":"flush"}
]}
